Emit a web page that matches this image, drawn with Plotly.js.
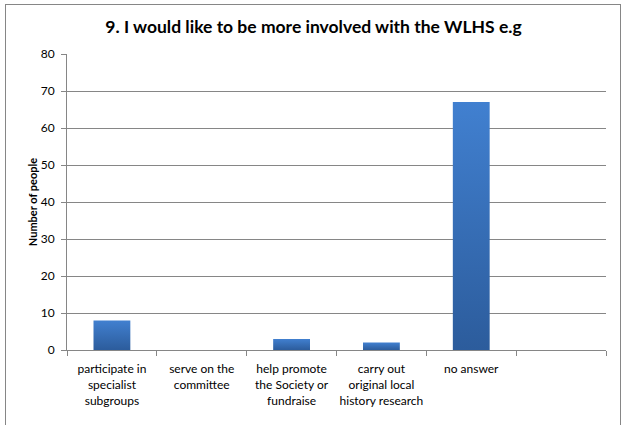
<!DOCTYPE html>
<html>
<head>
<meta charset="utf-8">
<script src="https://cdn.plot.ly/plotly-3.0.1.min.js"></script>
<style>
  html, body { margin:0; padding:0; background:#fff; }
  #wrap { position:relative; width:627px; height:425px; overflow:hidden; }
  #chart { position:absolute; left:0; top:0; width:627px; height:425px; }
  #frame { position:absolute; left:5px; top:4px; width:614px; height:440px; border:1px solid #868686; pointer-events:none; }
</style>
</head>
<body>
<div id="wrap">
  <div id="chart"></div>
  <div id="frame"></div>
</div>
<script>
const categories = [
  "participate in<br>specialist<br>subgroups",
  "serve on the<br>committee",
  "help promote<br>the Society or<br>fundraise",
  "carry out<br>original local<br>history research",
  "no answer",
  " "
];
const values = [8, 0, 3, 2, 67, null];
const yTicks = [0, 10, 20, 30, 40, 50, 60, 70, 80];
const titleText = "9. I would like to be more involved with the WLHS e.g";
const yTitleText = "Number of people";

const fontFam = "Lato, 'Open Sans', sans-serif";

const trace = {
  type: "bar",
  x: categories,
  y: values,
  marker: { color: "#3870bd", line: { width: 0 } },
  hoverinfo: "x+y"
};

const layout = {
  width: 627,
  height: 425,
  margin: { l: 67, r: 21, t: 54, b: 75, pad: 0 },
  paper_bgcolor: "#ffffff",
  plot_bgcolor: "#ffffff",
  showlegend: false,
  bargap: 0.59,
  font: { family: fontFam, size: 12, color: "#000" },
  title: {
    text: "<b>" + titleText + "</b>",
    font: { family: fontFam, size: 17.5, color: "#000" },
    x: 0.5, xanchor: "center",
    y: 0.936, yanchor: "middle", yref: "container"
  },
  xaxis: {
    type: "category",
    tickson: "boundaries",
    ticks: "outside",
    ticklen: 5,
    tickcolor: "#868686",
    showline: true,
    linecolor: "#868686",
    linewidth: 1,
    showgrid: false,
    tickfont: { family: fontFam, size: 12, color: "#000" },
    ticklabelstandoff: 8,
    tickangle: 0,
    fixedrange: true
  },
  yaxis: {
    range: [0, 80],
    tickvals: yTicks,
    ticktext: yTicks.map(String),
    ticks: "outside",
    ticklen: 5,
    tickcolor: "#868686",
    showline: true,
    linecolor: "#868686",
    linewidth: 1,
    showgrid: true,
    gridcolor: "#868686",
    gridwidth: 1,
    zeroline: false,
    tickfont: { family: fontFam, size: 12, color: "#000" },
    ticklabelstandoff: 4,
    title: {
      text: "<b>" + yTitleText + "</b>",
      font: { family: fontFam, size: 11, color: "#000" },
      standoff: 0
    },
    fixedrange: true
  }
};

Plotly.newPlot("chart", [trace], layout, { displayModeBar: false, staticPlot: true }).then(function (gd) {
  const svg = gd.querySelector("svg.main-svg");
  const ns = "http://www.w3.org/2000/svg";
  let defs = svg.querySelector("defs");
  if (!defs) { defs = document.createElementNS(ns, "defs"); svg.insertBefore(defs, svg.firstChild); }
  const lg = document.createElementNS(ns, "linearGradient");
  lg.setAttribute("id", "barGrad");
  lg.setAttribute("x1", "0"); lg.setAttribute("y1", "0");
  lg.setAttribute("x2", "0"); lg.setAttribute("y2", "1");
  [["0", "#4180d0"], ["1", "#2c5c9c"]].forEach(function (s) {
    const st = document.createElementNS(ns, "stop");
    st.setAttribute("offset", s[0]);
    st.setAttribute("stop-color", s[1]);
    lg.appendChild(st);
  });
  defs.appendChild(lg);
  gd.querySelectorAll(".bars .point path").forEach(function (p) {
    p.style.fill = "url(#barGrad)";
  });
});
</script>
</body>
</html>
